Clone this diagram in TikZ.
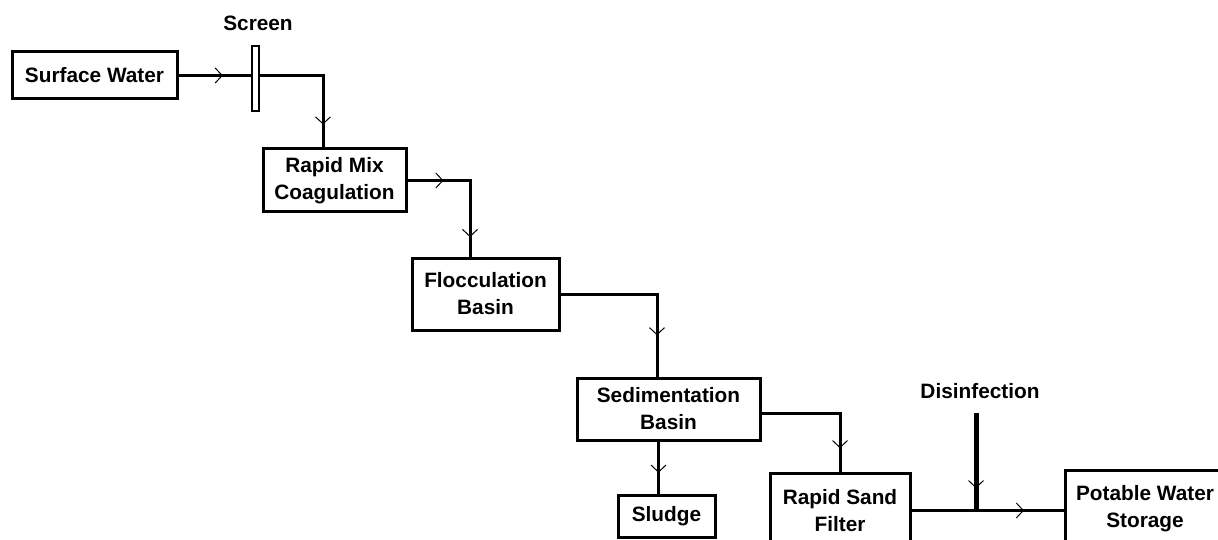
\documentclass[tikz,border=0pt]{standalone}
\usepackage{fontspec}
\setmainfont{Liberation Sans}
\usetikzlibrary{arrows.meta, positioning, decorations.markings}

\begin{document}
\begin{tikzpicture}[x=1pt, y=-1pt,
    every node/.style={font={\fontsize{20.8}{27}\selectfont\bfseries}},
    stage/.style={draw, line width=3pt, align=center, inner sep=0pt},
    flow/.style={line width=3pt, postaction={decorate, decoration={markings,
        mark=at position #1 with {\arrow{Straight Barb[length=7pt, width=15pt, line width=1pt]}}}}}]
    \clip (0,0) rectangle (1218,540);
    \node[stage, minimum width=165pt, minimum height=47pt] (surface) at (94.5,75.5) {Surface Water};
    \node[draw, line width=1.5pt, minimum width=7pt, minimum height=65pt, inner sep=0pt] (screen) at (255.5,78.5) {};
    \node (screenlabel) at (258,23) {Screen};
    \node[stage, minimum width=143pt, minimum height=63pt] (rapid) at (334.5,180.5) {Rapid Mix\\Coagulation};
    \node[stage, minimum width=147pt, minimum height=72pt] (floc) at (485.5,294) {Flocculation\\Basin};
    \node[stage, minimum width=183pt, minimum height=62pt] (sed) at (668.5,409) {Sedimentation\\Basin};
    \node[stage, minimum width=97pt, minimum height=42pt] (sludge) at (666.5,516) {Sludge};
    \node[stage, minimum width=140pt, minimum height=75pt] (filter) at (840,510.5) {Rapid Sand\\Filter};
    \node[stage, minimum width=160pt, minimum height=78pt] (potable) at (1145,509) {Potable Water\\Storage};
    \node (dislabel) at (980,391) {Disinfection};
    \coordinate (dosing) at (976,413);
    \coordinate (junction) at (976,512);

    \draw[flow=0.61] (surface.east) -- (surface.east -| screen.west);
    \draw[flow=0.83] (surface.east -| screen.east) -| ([xshift=-11.5pt]rapid.north);
    \draw[flow=0.26, flow=0.86] (rapid.east) -| ([xshift=-15.5pt]floc.north);
    \draw[flow=0.77] (floc.east) -| ([xshift=-11.5pt]sed.north);
    \draw[flow=0.83] ([yshift=-4pt]sed.east) -| (filter.north);
    \draw[flow=0.6] ([xshift=-10pt]sed.south) -- ([xshift=-10pt]sed.south |- sludge.north);
    \draw[flow=0.74] (filter.east) -- (filter.east -| potable.west);
    \draw[flow=0.76, line width=5pt] (dosing) -- (junction);
\end{tikzpicture}
\end{document}
